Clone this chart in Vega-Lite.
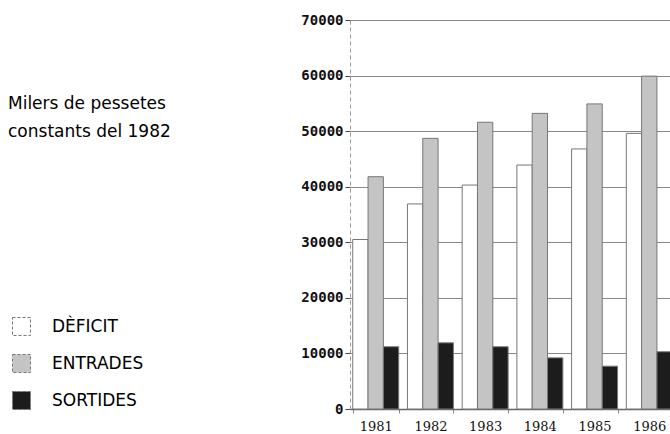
{
  "$schema": "https://vega.github.io/schema/vega-lite/v6.json",
  "autosize": {"type": "none"},
  "padding": {"left": 350, "top": 20, "right": 0, "bottom": 25},
  "width": 325,
  "height": 389,
  "background": "white",
  "title": {
    "text": ["Milers de pessetes", "constants del 1982"],
    "anchor": "start",
    "frame": "group",
    "font": "DejaVu Sans",
    "fontSize": 17,
    "fontWeight": "normal",
    "color": "black",
    "lineHeight": 28,
    "baseline": "top",
    "dx": -342,
    "dy": 132
  },
  "data": {
    "values": [
      {"any": "1981", "serie": "DÈFICIT", "valor": 30500},
      {"any": "1981", "serie": "ENTRADES", "valor": 41800},
      {"any": "1981", "serie": "SORTIDES", "valor": 11200},
      {"any": "1982", "serie": "DÈFICIT", "valor": 36900},
      {"any": "1982", "serie": "ENTRADES", "valor": 48700},
      {"any": "1982", "serie": "SORTIDES", "valor": 11900},
      {"any": "1983", "serie": "DÈFICIT", "valor": 40300},
      {"any": "1983", "serie": "ENTRADES", "valor": 51600},
      {"any": "1983", "serie": "SORTIDES", "valor": 11200},
      {"any": "1984", "serie": "DÈFICIT", "valor": 43900},
      {"any": "1984", "serie": "ENTRADES", "valor": 53200},
      {"any": "1984", "serie": "SORTIDES", "valor": 9200},
      {"any": "1985", "serie": "DÈFICIT", "valor": 46800},
      {"any": "1985", "serie": "ENTRADES", "valor": 54900},
      {"any": "1985", "serie": "SORTIDES", "valor": 7700},
      {"any": "1986", "serie": "DÈFICIT", "valor": 49600},
      {"any": "1986", "serie": "ENTRADES", "valor": 59900},
      {"any": "1986", "serie": "SORTIDES", "valor": 10300}
    ]
  },
  "mark": {"type": "bar", "stroke": "#777", "strokeWidth": 1},
  "encoding": {
    "x": {
      "field": "any",
      "type": "nominal",
      "scale": {"paddingInner": 0.16, "paddingOuter": 0.05},
      "axis": {
        "title": null,
        "labelAngle": 0,
        "labelFont": "DejaVu Serif",
        "labelFontSize": 13,
        "labelColor": "#111",
        "labelPadding": 7,
        "tickBand": "extent",
        "tickSize": 4,
        "tickColor": "#888",
        "domainColor": "#666",
        "domainWidth": 1.5
      }
    },
    "xOffset": {
      "field": "serie",
      "type": "nominal",
      "sort": ["DÈFICIT", "ENTRADES", "SORTIDES"],
      "scale": {"paddingInner": 0, "paddingOuter": 0}
    },
    "y": {
      "field": "valor",
      "type": "quantitative",
      "scale": {"domain": [0, 70000], "nice": false},
      "axis": {
        "title": null,
        "values": [0, 10000, 20000, 30000, 40000, 50000, 60000, 70000],
        "format": "d",
        "labelFont": "DejaVu Sans Mono",
        "labelFontWeight": "bold",
        "labelFontSize": 14,
        "labelColor": "#111",
        "labelPadding": 2,
        "tickSize": 5,
        "tickColor": "#444",
        "domainColor": "#999",
        "domainDash": [4, 3],
        "grid": true,
        "gridColor": "#888",
        "gridWidth": 1
      }
    },
    "color": {
      "field": "serie",
      "type": "nominal",
      "sort": ["DÈFICIT", "ENTRADES", "SORTIDES"],
      "scale": {"domain": ["DÈFICIT", "ENTRADES", "SORTIDES"], "range": ["#ffffff", "#c4c4c4", "#1c1c1c"]},
      "legend": {
        "title": null,
        "orient": "none",
        "legendX": -338,
        "legendY": 297,
        "padding": 0,
        "symbolType": "square",
        "symbolSize": 324,
        "symbolStrokeColor": "#777",
        "symbolStrokeWidth": 1,
        "symbolDash": [3, 2],
        "labelFont": "DejaVu Sans",
        "labelFontSize": 17,
        "labelColor": "black",
        "labelOffset": 21,
        "rowPadding": 14
      }
    }
  },
  "config": {"view": {"stroke": null}}
}
